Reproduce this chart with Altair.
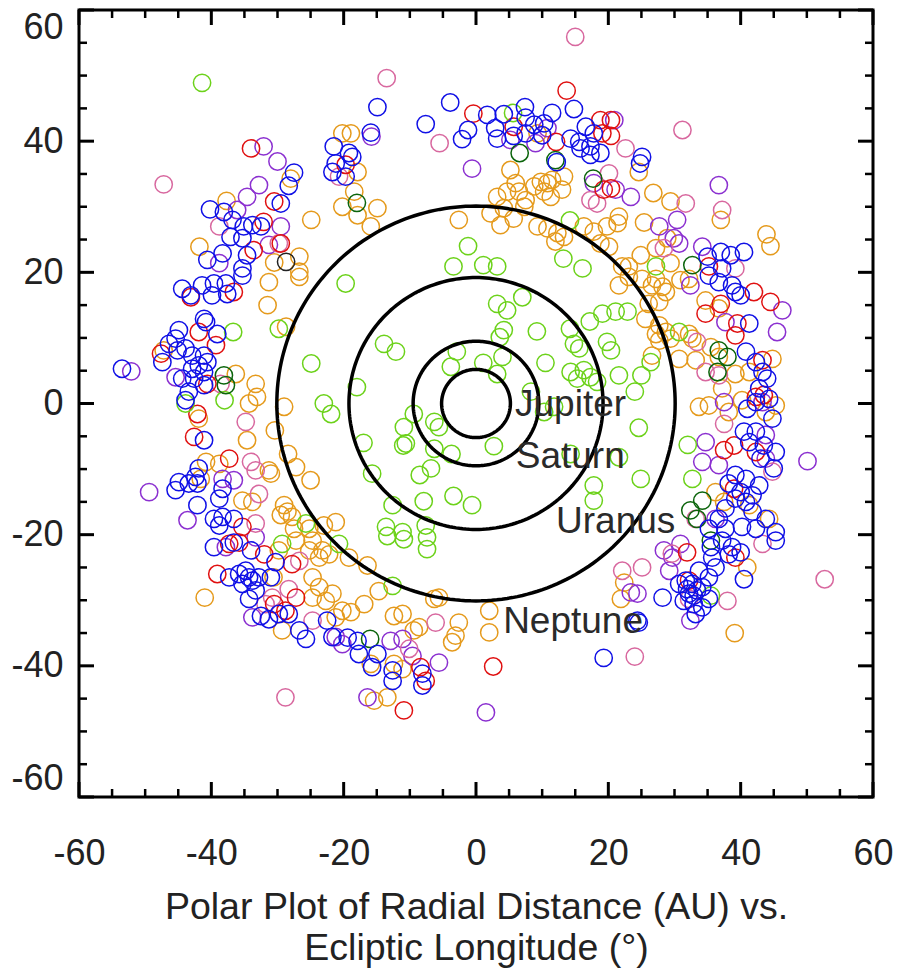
import altair as alt
import numpy as np
import pandas as pd

# ---- data (AU) ----
BLUE = [(-21.5,39.2),(-21.2,36.6),(-21.7,35.3),(-27.5,35.2),(-28.3,33.2),(-29.5,30.5),(-40.2,29.6),(-38.1,29.2),(-36.8,28.0),(-35.1,27.0),(-32.5,27.0),(-33.8,27.2),(-37.1,25.4),(-35.3,25.2),(-34.6,22.6),(-40.6,21.9),(-38.3,22.9),(-35.3,20.6),
(-14.9,45.2),(-3.9,45.9),(1.7,44.0),(4.2,44.1),(7.4,45.2),(7.5,43.6),(11.5,44.3),(14.8,44.9),(-7.6,42.6),(-15.9,41.3),(-1.2,41.7),(-2.1,40.3),(2.9,42.0),(3.2,40.4),(5.7,40.8),(7.5,41.2),(8.8,42.5),(10.3,42.7),(10.0,40.9),(14.3,40.4),(15.6,39.9),(16.6,42.2),(17.8,41.2),(17.3,39.2),(15.8,38.9),(17.3,37.9),(18.8,38.2),(12.2,36.8),(-19.2,38.2),(-18.7,37.6),(-19.7,34.6),
(25.1,37.6),(24.8,36.6),(35.0,22.4),(37.0,23.1),(38.5,22.6),(40.5,23.1),(37.2,20.6),
(-44.4,17.5),(-43.1,16.5),(-41.4,18.0),(-39.6,18.3),(-39.9,16.5),(-37.8,18.3),(-37.6,16.7),(-35.3,19.5),(-41.1,12.9),(-40.8,12.4),(-39.1,10.6),(-44.9,11.2),(-45.4,9.9),(-46.4,9.1),(-43.9,8.4),(-45.1,8.1),(-47.4,6.3),(-42.9,7.3),(-41.1,7.3),(-41.9,5.8),(-40.6,6.3),(-42.9,5.3),(-44.4,3.8),(-42.6,3.8),(-41.1,4.8),(-43.4,1.8),(-43.9,0.5),(-41.1,2.8),(-53.5,5.3),(-41.1,-5.6),(-41.9,-9.9),(-44.9,-12.0),(-45.4,-13.2),(-43.4,-12.2),(-42.4,-11.2),(-42.1,-12.2),(-38.3,-13.0),(-38.8,-14.5),(-42.1,-15.5),(-39.6,-17.6),(-38.8,-18.6),(-38.3,-17.3),(-36.6,-17.6),
(35.2,19.5),(36.7,18.5),(38.7,18.0),(39.2,17.0),(40.0,16.5),(41.3,12.2),(40.8,7.9),(42.3,6.3),(43.3,4.8),(44.0,3.8),(42.8,2.3),(44.3,0.7),(42.3,0.2),(41.0,-0.8),(44.8,-2.3),(40.5,-4.3),(42.3,-4.3),(41.3,-5.9),(43.5,-6.4),(45.3,-7.4),(43.0,-8.4),(45.0,-9.9),(39.2,-10.9),(40.8,-11.5),(42.8,-12.5),(38.2,-12.2),(40.0,-13.5),(41.8,-14.0),(39.2,-14.5),(40.8,-15.0),(37.7,-16.0),(41.8,-16.5),(43.8,-17.6),(36.7,-17.6),(37.7,-19.1),(40.2,-18.8),(42.3,-19.1),(45.3,-19.6),(35.2,-19.1),
(-39.6,-21.9),(-36.6,-21.2),(-34.0,-22.4),(-37.3,-26.5),(-35.8,-26.0),(-34.8,-25.5),(-34.3,-26.5),(-35.3,-27.5),(-33.8,-27.0),(-32.8,-26.5),(-31.0,-26.5),(-30.3,-24.2),(-33.3,-28.5),(-34.3,-29.8),(-29.8,-32.1),(-28.3,-32.1),(-32.5,-32.4),(-31.3,-32.9),(-26.7,-34.6),(-25.7,-35.9),(-22.5,-33.1),(-21.7,-35.6),
(-19.4,-35.7),(-17.7,-38.2),(-14.9,-38.2),(-15.7,-40.2),(-12.6,-40.7),(-12.6,-42.3),(-8.1,-41.2),(-8.1,-43.0),(-17.9,-36.2),(19.3,-38.8),
(24.4,-33.1),(24.6,-33.4),(28.2,-29.6),(30.7,-27.5),(31.7,-27.0),(32.7,-27.5),(32.2,-29.0),(33.4,-28.5),(34.2,-28.0),(35.2,-26.5),(36.2,-25.0),(35.7,-23.5),(33.7,-25.5),(31.4,-30.1),(32.9,-30.6),(34.2,-31.1),(33.2,-32.1),(35.2,-29.8),(31.9,-28.3),(32.9,-29.3),(37.2,-20.9),(38.7,-21.9),(38.2,-23.0),(40.0,-22.7),(40.5,-26.8),(35.5,-21.9),(45.3,-20.9)]

ORANGE = [(-28.0,34.3),(-37.7,30.9),(-24.9,28.0),(-41.8,23.9),(-26.7,22.4),(-30.5,21.5),(-26.7,20.1),(-20.2,41.2),(-20.2,30.0),
(5.2,35.6),(6.0,33.6),(4.7,32.3),(6.5,32.3),(3.2,31.5),(7.5,31.0),(8.8,33.1),(9.8,33.8),(10.8,33.6),(11.5,34.1),(13.3,34.6),(13.0,32.6),(10.3,32.3),(11.3,31.5),(7.3,30.0),(4.2,29.8),(2.2,29.0),(5.7,28.2),(3.7,27.2),(-2.6,28.0),(9.3,27.0),(10.8,26.7),(12.3,26.0),(13.3,25.4),(12.0,24.7),(16.3,27.0),(17.8,26.2),(18.8,24.4),(19.8,27.0),(9.3,41.2),(-18.9,41.2),(-17.9,35.3),(-18.4,32.3),(-17.9,28.7),(-15.9,27.0),(-14.9,29.8),
(24.6,35.3),(26.8,32.1),(29.4,30.8),(37.0,28.0),(21.6,28.5),(21.4,27.5),(25.4,27.6),(28.9,25.2),(27.2,23.7),(24.9,22.6),(43.9,25.8),(44.5,24.0),(29.4,21.4),(22.1,20.9),(23.1,20.9),(20.1,23.9),
(-31.3,18.5),(-26.7,19.3),(-31.5,15.0),(-28.7,11.7),(-47.2,8.1),(-36.3,4.5),(-33.3,3.0),(-33.1,1.0),(-34.3,0.0),(-41.9,-2.3),(-34.6,-5.6),(-29.0,-0.5),(-30.4,-4.1),(-28.4,-7.7),(-27.2,-9.7),(-25.0,-11.7),(-40.8,-8.9),(-38.8,-9.2),(-31.3,-10.2),(-31.0,-10.7),(-41.6,-11.5),(-35.3,-14.8),(-33.8,-15.0),(-29.0,-15.5),(-28.5,-16.5),(-29.5,-17.0),(-27.8,-17.3),(-27.5,-19.1),(-25.2,-19.1),(-23.0,-18.6),(-21.2,-18.1),
(21.6,18.0),(23.1,19.3),(25.1,19.0),(26.6,18.0),(27.2,19.0),(28.2,17.8),(28.7,17.0),(30.9,18.8),(32.2,19.0),(26.1,15.2),(27.7,15.5),(25.6,12.9),(27.7,11.9),(27.2,10.6),(28.7,10.9),(29.4,9.9),(32.2,10.6),(32.7,9.9),(27.7,9.6),(26.6,7.3),(30.7,6.8),(33.2,6.6),(34.7,15.7),(36.7,14.5),(35.5,8.6),(36.7,7.1),(37.2,2.3),(33.7,-0.5),(35.2,-0.3),(38.2,-1.3),(40.2,0.5),(41.3,4.8),(39.2,4.5),(44.8,6.8),(45.3,-0.3),(43.8,-1.3),(36.2,-13.5),(37.5,-15.0),(41.3,-15.5),(44.3,-17.6),
(-29.8,-22.4),(-27.2,-20.9),(-24.7,-20.9),(-23.2,-22.4),(-22.2,-23.0),(-23.7,-23.5),(-25.2,-22.4),(-30.6,-26.5),(-41.0,-29.6),(-24.7,-26.5),(-23.7,-28.0),(-21.7,-29.0),(-22.7,-30.1),(-24.7,-29.6),(-20.2,-31.6),(-21.2,-32.6),(-29.3,-34.6),
(-19.2,-23.5),(-16.4,-24.7),(-14.7,-28.6),(-16.9,-30.6),(-18.9,-31.8),(-12.4,-32.4),(-11.1,-32.1),(-8.6,-34.1),(-9.4,-34.6),(-6.3,-29.8),(-5.6,-29.6),(-2.6,-33.4),(-3.1,-35.4),(-3.6,-36.4),(2.0,-31.6),(2.0,-34.9),(-15.9,-39.7),(-12.4,-39.7),(-11.1,-40.5),(-15.4,-45.3),(-13.4,-44.8),
(22.4,-27.3),(21.9,-29.8),(39.1,-35.0),(41.0,-25.0)]

GREEN = [(-41.4,48.9),(5.6,44.3),(14.2,27.9),(-1.2,24.0),(-3.4,20.9),(1.1,21.1),(3.2,20.9),(13.2,22.1),(16.1,20.6),(27.2,20.9),
(-29.8,11.4),(-36.7,10.9),(-38.0,0.5),(-43.9,0.0),(-24.9,6.1),(-23.0,0.0),(-21.9,-1.6),(-19.7,18.3),(-25.7,-18.3),
(3.2,15.2),(4.7,14.2),(7.0,16.2),(4.2,11.2),(3.6,10.1),(9.2,11.0),(17.2,12.5),(14.2,11.4),(14.8,9.1),(15.6,8.4),(19.1,13.7),(19.8,9.4),(-13.9,9.1),(-12.1,7.9),(-2.9,7.9),(-3.8,5.6),(1.1,6.2),(4.0,7.1),(3.2,4.5),(10.5,6.2),(14.3,4.8),(16.3,5.1),(17.3,4.0),(18.3,3.3),(15.3,3.8),(8.3,1.8),(10.3,-1.3),(11.8,-0.5),(-18.0,2.5),(-9.4,-1.6),(-10.9,-3.6),(-10.6,-6.1),(-11.0,-6.4),(-6.3,-2.8),(-5.6,-3.6),(-17.0,-6.0),(2.7,-6.5),(-6.3,-6.9),(-3.7,-7.7),(-8.5,-10.9),(-6.8,-9.9),(-15.7,-10.7),(-7.9,-14.9),(-3.4,-14.1),(-0.6,-15.5),(-12.6,-15.5),(-13.6,-18.8),(-11.1,-19.6),(-7.6,-18.6),(17.8,-12.5),(17.8,-14.8),(14.3,-7.7),
(21.1,14.0),(22.9,14.0),(20.4,8.1),(21.6,4.3),(25.0,4.3),(26.4,6.3),(24.0,1.8),(24.6,-3.7),(32.0,-6.3),(21.6,-8.2),(24.9,-11.5),(32.7,-11.5),(30.7,10.9),
(-29.3,-21.4),(-20.7,-21.4),(-13.4,-20.2),(-10.9,-20.7),(-7.4,-20.4),(-7.4,-22.2),(-12.6,-27.8),(35.5,-29.3)]

PURPLE = [(-32.1,39.2),(-30.0,36.9),(-32.8,33.3),(-34.6,31.5),(-36.1,29.5),(-29.5,27.0),(-31.3,24.2),(-38.8,21.4),
(-15.8,40.7),(5.2,40.2),(9.0,39.7),(10.8,42.0),(-0.6,35.8),(17.8,33.6),
(20.9,43.2),(21.1,32.6),(23.4,31.5),(36.7,33.3),(27.7,27.0),(30.4,28.0),(29.9,25.2),(30.7,24.4),(34.2,23.9),
(-52.1,4.9),(-45.4,4.0),(-49.4,-13.5),(-38.3,-11.5),(-36.6,-11.7),(-43.6,-17.8),
(46.3,14.2),(45.5,10.9),(50.1,-8.8),(32.4,18.0),(34.7,-5.9),(34.2,-8.9),(36.7,-9.4),(37.7,12.4),(37.5,0.2),(43.3,0.2),(43.8,-4.8),(43.8,-8.4),(36.2,-17.6),
(-37.8,-21.9),(-33.3,-20.4),(-33.8,-32.6),(-21.2,-35.6),(-20.2,-36.7),
(-12.9,-36.2),(-11.1,-35.9),(-9.6,-38.5),(-5.6,-39.5),(-16.4,-44.8),(1.5,-47.1),
(23.4,-28.8),(24.4,-29.0),(28.4,-22.4),(30.9,-21.4),(29.7,-23.5),(29.2,-25.5),(32.4,-33.1)]

RED = [(-34.0,38.9),(-30.5,30.8),(-32.1,27.7),(-29.5,24.4),(-33.6,23.4),
(13.7,47.7),(-0.4,44.2),(5.7,42.2),(12.1,39.9),(18.8,43.2),(19.1,41.2),(-19.7,36.4),(19.3,32.6),
(20.4,43.2),(20.4,40.8),(20.4,32.8),(35.2,20.9),
(-43.1,16.2),(-36.6,17.0),(-41.9,10.9),(-39.3,8.9),(-47.6,7.6),(-40.6,3.0),(-42.1,-1.6),(-42.6,-5.1),(-37.3,-8.4),(-35.3,-18.8),
(34.7,13.7),(37.0,15.2),(39.2,10.4),(39.5,12.2),(42.0,17.0),(44.5,15.5),(43.3,6.6),(43.5,1.3),(42.3,1.0),(37.5,-7.1),(39.0,-6.4),(42.3,-7.4),(39.0,-13.0),
(-37.3,-21.4),(-35.8,-21.2),(-32.0,-23.0),(-39.1,-26.0),(-27.8,-24.5),(-27.2,-29.6),(-30.5,-30.6),(-28.8,-31.6),
(-8.4,-40.2),(-7.6,-42.3),(2.6,-40.1),(-10.9,-46.8),
(31.9,-22.7),(32.2,-27.0),(39.2,-23.5)]

PINK = [(-47.2,33.4),(-38.8,27.0),(-29.8,24.4),(-20.7,34.6),
(15.0,55.9),(-13.5,49.6),(-5.5,39.7),(17.3,31.0),(18.3,30.5),
(31.2,41.7),(22.6,38.9),(31.7,30.5),(37.2,29.5),(28.4,23.7),(39.2,20.6),(20.1,35.1),
(-38.6,3.0),(-34.8,-2.8),(-34.0,-8.9),(-33.3,-10.2),(-32.8,-13.8),(-33.3,-18.3),
(33.4,9.4),(34.7,4.8),(36.7,4.3),(37.5,-3.1),(44.8,-10.4),(33.2,-17.6),
(-26.7,-24.0),(-28.3,-28.3),(-30.8,-29.6),(-31.8,-30.6),(-24.7,-33.1),(-28.8,-44.8),
(-6.1,-33.4),(-10.1,-37.4),
(22.1,-25.5),(25.1,-25.0),(24.0,-38.6),(29.6,-22.9),(38.0,-30.1),(52.7,-26.8),(32.2,-29.8),(43.3,-21.4)]

DARKGREEN = [(6.6,38.2),(12.0,37.1),(17.7,34.3),(-18.0,30.6),(32.7,21.1),(-38.1,4.3),(-37.8,2.8),(36.7,8.1),(38.0,7.1),(36.5,4.8),(34.2,-14.8),(32.4,-16.3),(33.4,-17.6),(-16.0,-35.9),(35.5,-20.9)]

BLACK = [(-28.7,21.6)]

PLANETS = ["Jupiter", "Saturn", "Uranus", "Neptune"]
ORBIT_RADII = [5.2, 9.5, 19.2, 30.1]
LABEL_X = [5.9, 6.0, 12.1, 4.1]
LABEL_Y = [-0.3, -8.2, -18.0, -33.3]

MAJOR = [-60, -40, -20, 0, 20, 40, 60]
MINOR = [v for v in range(-55, 60, 5) if v % 20 != 0]

GROUPS = [("orange", ORANGE, "#e59a1c"), ("purple", PURPLE, "#8b30d0"), ("pink", PINK, "#d8689f"),
          ("red", RED, "#e01010"), ("green", GREEN, "#6cd21a"), ("darkgreen", DARKGREEN, "#0b640b"),
          ("black", BLACK, "#222222"), ("blue", BLUE, "#1010e6")]

W, H = 794, 787
FONT = "Liberation Sans"

rows = []
for i, (name, pts, col) in enumerate(GROUPS):
    for (x, y) in pts:
        rows.append({"x": x, "y": y, "grp": name, "ord": i})
pts_df = pd.DataFrame(rows)

xs = alt.Scale(domain=[-60, 60], nice=False, zero=False)
ys = alt.Scale(domain=[-60, 60], nice=False, zero=False)

AX = alt.Axis(values=MAJOR, ticks=False, domain=False, grid=False, labelFontSize=36, labelPadding=39,
              labelFont=FONT, labelColor="#222", labelFlush=False, labelExpr="toString(datum.value)",
              title=["Polar Plot of Radial Distance (AU) vs.", "Ecliptic Longitude (°)"],
              titleFont=FONT, titleFontSize=37.5, titleFontWeight="normal", titleColor="#222",
              titlePadding=17, titleLineHeight=41)
AY = alt.Axis(values=MAJOR, ticks=False, domain=False, grid=False, labelFontSize=36, labelPadding=16,
              labelFont=FONT, labelColor="#222", labelFlush=True, labelFlushOffset=0,
              labelExpr="toString(datum.value)", title=None)

def X():
    return alt.X("x:Q", scale=xs, axis=AX)

def Y():
    return alt.Y("y:Q", scale=ys, axis=AY)

points = alt.Chart(pts_df).mark_point(filled=False, size=300, strokeWidth=1.5, opacity=1).encode(
    x=X(), y=Y(),
    color=alt.Color("grp:N", scale=alt.Scale(domain=[g[0] for g in GROUPS], range=[g[2] for g in GROUPS]), legend=None),
    order=alt.Order("ord:Q"),
)

# orbits: circles built from each radius
orb_rows = []
for name, r in zip(PLANETS, ORBIT_RADII):
    for k, t in enumerate(np.linspace(0, 2 * np.pi, 241)):
        orb_rows.append({"planet": name, "k": k, "x": r * np.cos(t), "y": r * np.sin(t)})
orb_df = pd.DataFrame(orb_rows)
orbits = alt.Chart(orb_df).mark_line(color="black", strokeWidth=3.5).encode(
    x=X(), y=Y(), detail="planet:N", order="k:Q")

lab_df = pd.DataFrame({"name": PLANETS, "x": LABEL_X, "y": LABEL_Y})
labels = alt.Chart(lab_df).mark_text(align="left", baseline="middle", fontSize=37, font=FONT, color="#2a2a2a").encode(
    x=X(), y=Y(), text="name:N")

def hticks(vals, length, bottom, sw):
    d = pd.DataFrame({"x": vals})
    y0 = H if bottom else 0
    y1 = H - length if bottom else length
    return alt.Chart(d).mark_rule(color="black", strokeWidth=sw).encode(
        x=X(), y=alt.value(y0), y2=alt.value(y1))

def vticks(vals, length, left, sw):
    d = pd.DataFrame({"y": vals})
    x0 = 0 if left else W
    x1 = length if left else W - length
    return alt.Chart(d).mark_rule(color="black", strokeWidth=sw).encode(
        y=Y(), x=alt.value(x0), x2=alt.value(x1))

tick_layers = [hticks(MAJOR, 15, True, 3), hticks(MINOR, 8, True, 2.5),
               hticks(MAJOR, 15, False, 3), hticks(MINOR, 8, False, 2.5),
               vticks(MAJOR, 15, True, 3), vticks(MINOR, 8, True, 2.5),
               vticks(MAJOR, 15, False, 3), vticks(MINOR, 8, False, 2.5)]

chart = alt.layer(points, orbits, labels, *tick_layers).properties(
    width=W, height=H,
    autosize=alt.AutoSizeParams(type="none"),
    padding={"left": 79, "top": 10, "right": 24, "bottom": 174},
    background="white",
).configure_view(stroke="black", strokeWidth=3)

chart.save("out.html", embed_options={"renderer": "svg", "actions": False})
